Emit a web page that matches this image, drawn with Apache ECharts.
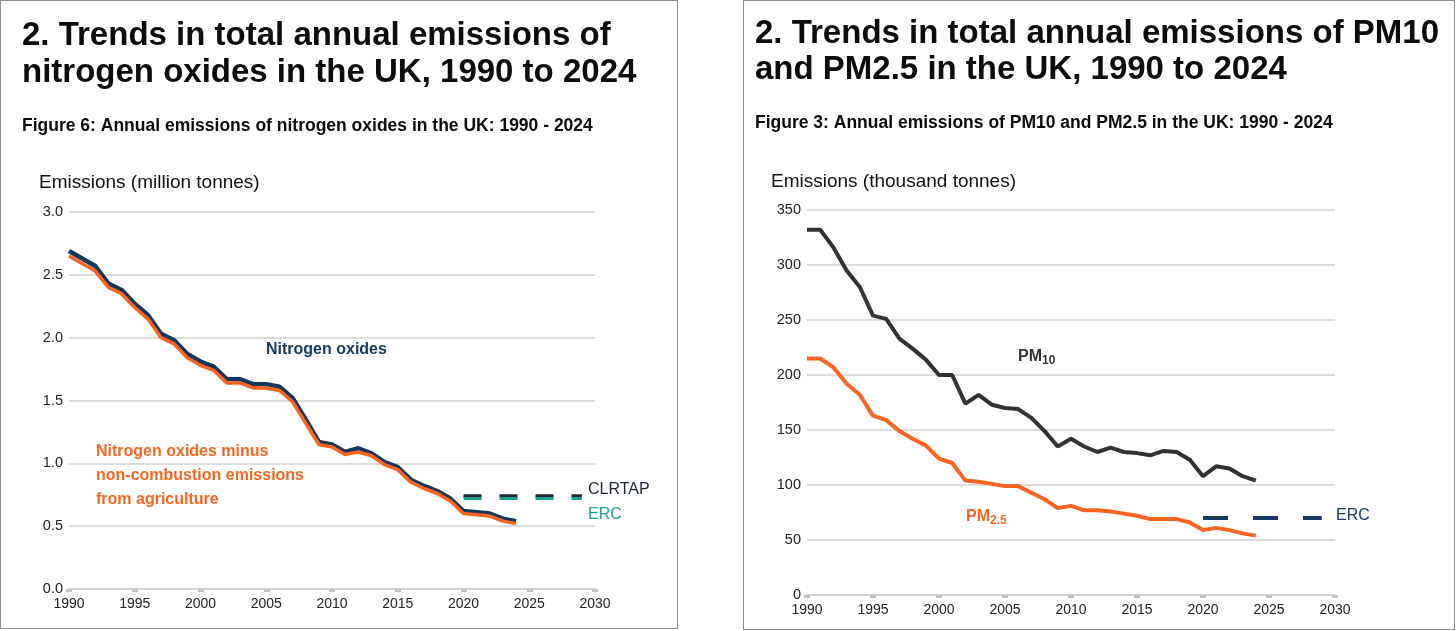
<!DOCTYPE html>
<html>
<head>
<meta charset="utf-8">
<script src="https://cdn.jsdelivr.net/npm/echarts@6.0.0/dist/echarts.min.js"></script>
<style>
  body{margin:0;background:#fff;width:1456px;height:631px;overflow:hidden;}
  .panel{position:absolute;top:0;box-sizing:border-box;border:1px solid #8f8f8f;background:#fff;}
  #chart_nox{left:0;width:678px;height:629px;}
  #chart_pm{left:743px;width:712px;height:630px;}
</style>
</head>
<body>
<div id="chart_nox" class="panel"></div>
<div id="chart_pm" class="panel"></div>
<script>
// years 1990 - 2024
var years = [1990,1991,1992,1993,1994,1995,1996,1997,1998,1999,2000,2001,2002,2003,2004,2005,2006,2007,2008,2009,2010,2011,2012,2013,2014,2015,2016,2017,2018,2019,2020,2021,2022,2023,2024];

// nitrogen oxides, million tonnes
var noxTotal = [2.69,2.63,2.57,2.43,2.38,2.27,2.18,2.03,1.98,1.87,1.81,1.77,1.67,1.67,1.63,1.63,1.61,1.52,1.35,1.17,1.15,1.09,1.12,1.08,1.01,0.97,0.87,0.82,0.78,0.72,0.62,0.61,0.60,0.56,0.54];
var noxMinusAgri = [2.65,2.59,2.53,2.40,2.35,2.24,2.15,2.00,1.95,1.84,1.78,1.74,1.64,1.64,1.60,1.60,1.58,1.49,1.32,1.15,1.13,1.07,1.09,1.06,0.99,0.95,0.85,0.80,0.76,0.70,0.60,0.59,0.58,0.54,0.52];

// particulate matter, thousand tonnes
var pm10 = [332,332,316,295,280,254,251,233,224,214,200,200,174,182,173,170,169,161,149,135,142,135,130,134,130,129,127,131,130,123,108,117,115,108,104];
var pm25 = [215,215,207,192,182,163,159,149,142,136,124,120,104,103,101,99,99,93,87,79,81,77,77,76,74,72,69,69,69,66,59,61,59,56,54];

// 2030 commitments (drawn 2020 - 2029)
var targetYears = [2020, 2029];
var noxClrtap = 0.74;
var noxErc = 0.72;
var pm25Erc = 70;

var xTicks = [1990,1995,2000,2005,2010,2015,2020,2025,2030];
var noxTicks = [0,0.5,1,1.5,2,2.5,3];
var pmTicks = [0,50,100,150,200,250,300,350];

function pairs(xs, ys){
  var out = [];
  for (var i = 0; i < xs.length; i++) out.push([xs[i], ys[i]]);
  return out;
}
function flat(v){ return pairs(targetYears, [v, v]); }

var FONT = '"Liberation Sans", Arial, sans-serif';

function xAxisCfg(){
  return {
    type:'value', min:xTicks[0], max:xTicks[xTicks.length-1], interval:5,
    axisLine:{show:true, lineStyle:{color:'#cfcfcf', width:1.5}},
    axisTick:{show:true, length:3, lineStyle:{color:'#c4c4c4', width:6}},
    axisLabel:{color:'#222', fontSize:14, fontFamily:FONT, margin:8, formatter:function(v){ return String(v); }},
    splitLine:{show:false}
  };
}
function yAxisCfg(ticks, fmt){
  return {
    type:'value', min:ticks[0], max:ticks[ticks.length-1], interval:ticks[1]-ticks[0],
    axisLine:{show:false}, axisTick:{show:false},
    axisLabel:{color:'#222', fontSize:14.5, fontFamily:FONT, margin:6, formatter:fmt || function(v){ return String(v); }},
    splitLine:{lineStyle:{color:'#d0d0d0', width:1.5}}
  };
}
function txt(x, y, text, size, color, weight, extra){
  var s = {text:text, x:x, y:y, fill:color, font:(weight||'normal')+' '+size+'px '+FONT, textVerticalAlign:'middle'};
  if (extra) for (var k in extra) s[k] = extra[k];
  return {type:'text', silent:true, style:s};
}

// ---- left: nitrogen oxides ----
var optionNox = {
  animation:false,
  backgroundColor:'#fff',
  grid:{left:68, top:211, width:526, height:377},
  xAxis:xAxisCfg(),
  yAxis:yAxisCfg(noxTicks, function(v){ return v.toFixed(1); }),
  graphic:[
    txt(21, 35, '2. Trends in total annual emissions of', 33, '#0b0c0c', 'bold'),
    txt(21, 72, 'nitrogen oxides in the UK, 1990 to 2024', 33, '#0b0c0c', 'bold'),
    txt(21, 125, 'Figure 6: Annual emissions of nitrogen oxides in the UK: 1990 - 2024', 17.5, '#0b0c0c', 'bold'),
    txt(38, 182, 'Emissions (million tonnes)', 19, '#111', 'normal'),
    txt(265, 349, 'Nitrogen oxides', 16, '#163a63', 'bold'),
    txt(95, 451, 'Nitrogen oxides minus', 16, '#f7661e', 'bold'),
    txt(95, 475, 'non-combustion emissions', 16, '#f7661e', 'bold'),
    txt(95, 499, 'from agriculture', 16, '#f7661e', 'bold'),
    txt(587, 489, 'CLRTAP', 16, '#1d2733', 'normal'),
    txt(587, 514, 'ERC', 16, '#1fa08c', 'normal')
  ],
  series:[
    {name:'Nitrogen oxides', type:'line', data:pairs(years, noxTotal), showSymbol:false, z:3,
     lineStyle:{color:'#14375e', width:4.5}},
    {name:'Nitrogen oxides minus non-combustion emissions from agriculture', type:'line', data:pairs(years, noxMinusAgri), showSymbol:false, z:4,
     lineStyle:{color:'#fa6420', width:3.5}},
    {name:'CLRTAP', type:'line', data:flat(noxClrtap), showSymbol:false, z:3,
     lineStyle:{color:'#1d2733', width:3.5, type:[18,18], cap:'butt'}},
    {name:'ERC', type:'line', data:flat(noxErc), showSymbol:false, z:4,
     lineStyle:{color:'#1fa08c', width:3, type:[18,18], cap:'butt'}}
  ]
};

// ---- right: PM10 and PM2.5 ----
var optionPm = {
  animation:false,
  backgroundColor:'#fff',
  grid:{left:63, top:209, width:528, height:385},
  xAxis:xAxisCfg(),
  yAxis:yAxisCfg(pmTicks),
  graphic:[
    txt(11, 33, '2. Trends in total annual emissions of PM10', 33, '#0b0c0c', 'bold'),
    txt(11, 69, 'and PM2.5 in the UK, 1990 to 2024', 33, '#0b0c0c', 'bold'),
    txt(11, 122, 'Figure 3: Annual emissions of PM10 and PM2.5 in the UK: 1990 - 2024', 17.5, '#0b0c0c', 'bold'),
    txt(27, 181, 'Emissions (thousand tonnes)', 19, '#111', 'normal'),
    txt(274, 356, '{a|PM}{b|10}', 16, '#333', 'bold', {rich:{
      a:{fontSize:16, fontWeight:'bold', fill:'#333', fontFamily:'Liberation Sans'},
      b:{fontSize:12, fontWeight:'bold', fill:'#333', fontFamily:'Liberation Sans', padding:[8,0,0,0]}}}),
    txt(222, 516, '{a|PM}{b|2.5}', 16, '#f7661e', 'bold', {rich:{
      a:{fontSize:16, fontWeight:'bold', fill:'#f7661e', fontFamily:'Liberation Sans'},
      b:{fontSize:12, fontWeight:'bold', fill:'#f7661e', fontFamily:'Liberation Sans', padding:[8,0,0,0]}}}),
    txt(592, 515, 'ERC', 16, '#163a63', 'normal')
  ],
  series:[
    {name:'PM10', type:'line', data:pairs(years, pm10), showSymbol:false,
     lineStyle:{color:'#333333', width:4}},
    {name:'PM2.5', type:'line', data:pairs(years, pm25), showSymbol:false,
     lineStyle:{color:'#fa6420', width:4}},
    {name:'ERC', type:'line', data:flat(pm25Erc), showSymbol:false,
     lineStyle:{color:'#163a63', width:4, type:[25,25], cap:'butt'}}
  ]
};

var chartNox = echarts.init(document.getElementById('chart_nox'));
chartNox.setOption(optionNox);
var chartPm = echarts.init(document.getElementById('chart_pm'));
chartPm.setOption(optionPm);
window.addEventListener('resize', function(){ chartNox.resize(); chartPm.resize(); });
</script>
</body>
</html>
